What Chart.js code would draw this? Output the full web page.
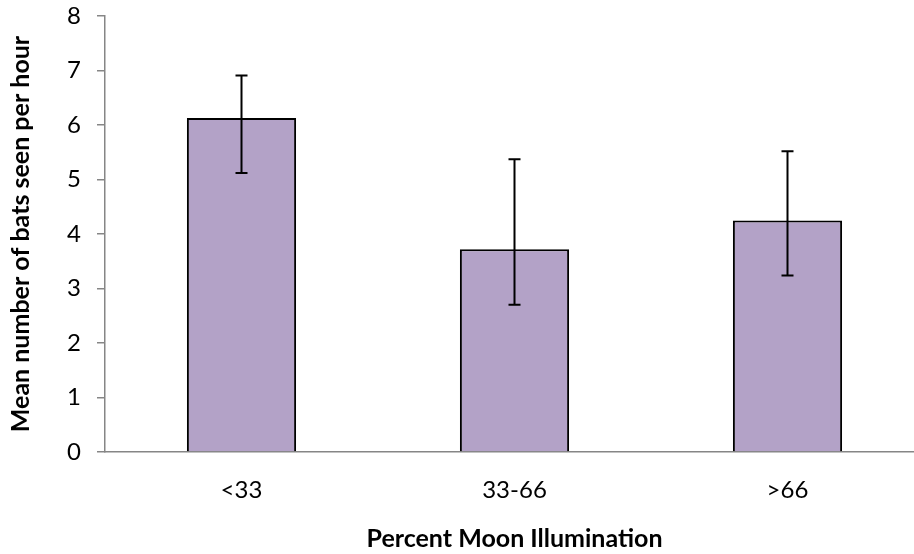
<!DOCTYPE html>
<html>
<head>
<meta charset="utf-8">
<script src="https://cdn.jsdelivr.net/npm/chart.js@4.4.1/dist/chart.umd.min.js"></script>
<style>
  html, body { margin: 0; padding: 0; background: #fff; overflow: hidden; }
  #wrap { width: 914px; height: 554px; overflow: hidden; }
</style>
</head>
<body>
<div id="wrap"><canvas id="chart" width="924" height="554"></canvas></div>
<script>
const categories = ['<33', '33-66', '>66'];
const meanBats = [6.13, 3.72, 4.25];
const errHigh = [6.91, 5.37, 5.52];
const errLow = [5.12, 2.70, 3.24];

const FONT = 'Lato, "Open Sans", sans-serif';

// error bars, drawn from the y scale
const errorBars = {
  id: 'errorBars',
  afterDatasetsDraw(chart) {
    const { ctx, scales: { y } } = chart;
    const meta = chart.getDatasetMeta(0);
    ctx.save();
    ctx.strokeStyle = '#000';
    ctx.lineWidth = 2;
    meta.data.forEach((bar, i) => {
      const top = y.getPixelForValue(errHigh[i]);
      const bot = y.getPixelForValue(errLow[i]);
      ctx.beginPath();
      ctx.moveTo(bar.x, top);
      ctx.lineTo(bar.x, bot);
      ctx.moveTo(bar.x - 6, top);
      ctx.lineTo(bar.x + 6, top);
      ctx.moveTo(bar.x - 6, bot);
      ctx.lineTo(bar.x + 6, bot);
      ctx.stroke();
    });
    ctx.restore();
  }
};

new Chart(document.getElementById('chart'), {
  type: 'bar',
  data: {
    labels: categories,
    datasets: [{
      data: meanBats,
      backgroundColor: '#B3A2C7',
      borderColor: '#000',
      borderWidth: 2,
      categoryPercentage: 1,
      barPercentage: 0.4,
    }],
  },
  options: {
    responsive: false,
    animation: false,
    devicePixelRatio: 1,
    layout: { padding: { top: 16, right: 0, bottom: 0, left: 0 } },
    plugins: { legend: { display: false }, tooltip: { enabled: false } },
    scales: {
      x: {
        grid: { display: false },
        border: { color: '#868686', width: 1.5 },
        ticks: { color: '#000', font: { family: FONT, size: 24 }, padding: 16 },
        title: {
          display: true,
          text: 'Percent Moon Illumination',
          color: '#000',
          font: { family: FONT, size: 25, weight: 'bold' },
          padding: { top: 0, bottom: 0 },
        },
        afterFit(scale) { scale.height = 102; },
      },
      y: {
        min: 0,
        max: 8,
        ticks: { stepSize: 1, color: '#000', font: { family: FONT, size: 24 }, padding: 16 },
        grid: { drawOnChartArea: false, drawTicks: true, tickLength: 8, color: '#868686', lineWidth: 1.5 },
        border: { color: '#868686', width: 1.5 },
        title: {
          display: true,
          text: 'Mean number of bats seen per hour',
          color: '#000',
          font: { family: FONT, size: 25, weight: 'bold' },
          padding: { top: 6, bottom: 0 },
        },
        afterFit(scale) {
          scale.width = 105;
          scale.paddingTop = 0;
          scale.paddingBottom = 0;
        },
      },
    },
  },
  plugins: [errorBars],
});
</script>
</body>
</html>
